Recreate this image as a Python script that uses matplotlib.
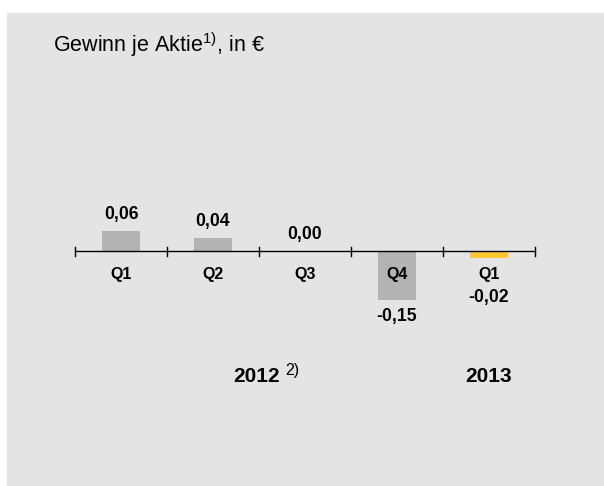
import matplotlib
matplotlib.use("Agg")
import matplotlib.pyplot as plt
from matplotlib.patches import Rectangle

plt.rcParams['font.family'] = ['Liberation Sans', 'DejaVu Sans']
plt.rcParams['mathtext.fontset'] = 'custom'
plt.rcParams['mathtext.rm'] = 'Liberation Sans'

quarters = ["Q1", "Q2", "Q3", "Q4", "Q1"]
values = [0.06, 0.04, 0.00, -0.15, -0.02]
value_labels = ["0,06", "0,04", "0,00", "-0,15", "-0,02"]
colors = ["#b3b3b3", "#b3b3b3", "#b3b3b3", "#b3b3b3", "#fdc82f"]
years = ["2012", "2013"]
title = "Gewinn je Aktie"

W, H = 604, 486
fig = plt.figure(figsize=(W / 100, H / 100), dpi=100)
fig.patch.set_facecolor("white")
fig.patches.append(Rectangle((7 / W, 0), 1, (H - 13) / H, transform=fig.transFigure,
                             facecolor="#e4e4e4", edgecolor="none", zorder=-5))

ax = fig.add_axes([0, 0, 1, 1])
ax.set_zorder(1)
ax.set_facecolor("none")
ax.axis("off")
# pixel mapping: category centre i -> 121 + 92*i px ; value 0 -> 251 px from top, 325 px/unit
ax.set_xlim((0 - 121) / 92, (W - 121) / 92)
ax.set_ylim(-(H - 251) / 325, 251 / 325)

xs = list(range(len(values)))
ax.bar(xs, values, width=0.41, color=colors, zorder=2)

# axis line with ticks
ax.plot([-0.5, len(values) - 0.5], [0, 0], color="black", lw=1, zorder=3)
for b in range(len(values) + 1):
    ax.plot([b - 0.5, b - 0.5], [-0.016, 0.012], color="black", lw=1, zorder=3)

for i, (v, lab, q) in enumerate(zip(values, value_labels, quarters)):
    ax.annotate(q, (i, 0), xytext=(0, -24), textcoords="offset pixels",
                ha="center", va="center", fontsize=11.5, fontweight="bold", zorder=4)
    if v >= 0:
        ax.annotate(lab, (i, v), xytext=(0, 17), textcoords="offset pixels",
                    ha="center", va="center", fontsize=12.7, fontweight="bold", zorder=4)
    else:
        off = -17 if v < -0.05 else -40
        ax.annotate(lab, (i, v), xytext=(0, off), textcoords="offset pixels",
                    ha="center", va="center", fontsize=12.7, fontweight="bold", zorder=4)

yy = -(376 - 251) / 325
ax.text(1.47, yy, years[0], ha="center", va="center", fontsize=15, fontweight="bold")
ax.annotate("2)", (1.47, yy), xytext=(29, 6), textcoords="offset pixels",
            ha="left", va="center", fontsize=11.5)
ax.text(4, yy, years[1], ha="center", va="center", fontsize=15, fontweight="bold")

fig.text(53 / W, 1 - 45 / H, title + "$^{1)}$" + ", in €", ha="left", va="center", fontsize=15.5)

fig.savefig("out.png", dpi=100)
